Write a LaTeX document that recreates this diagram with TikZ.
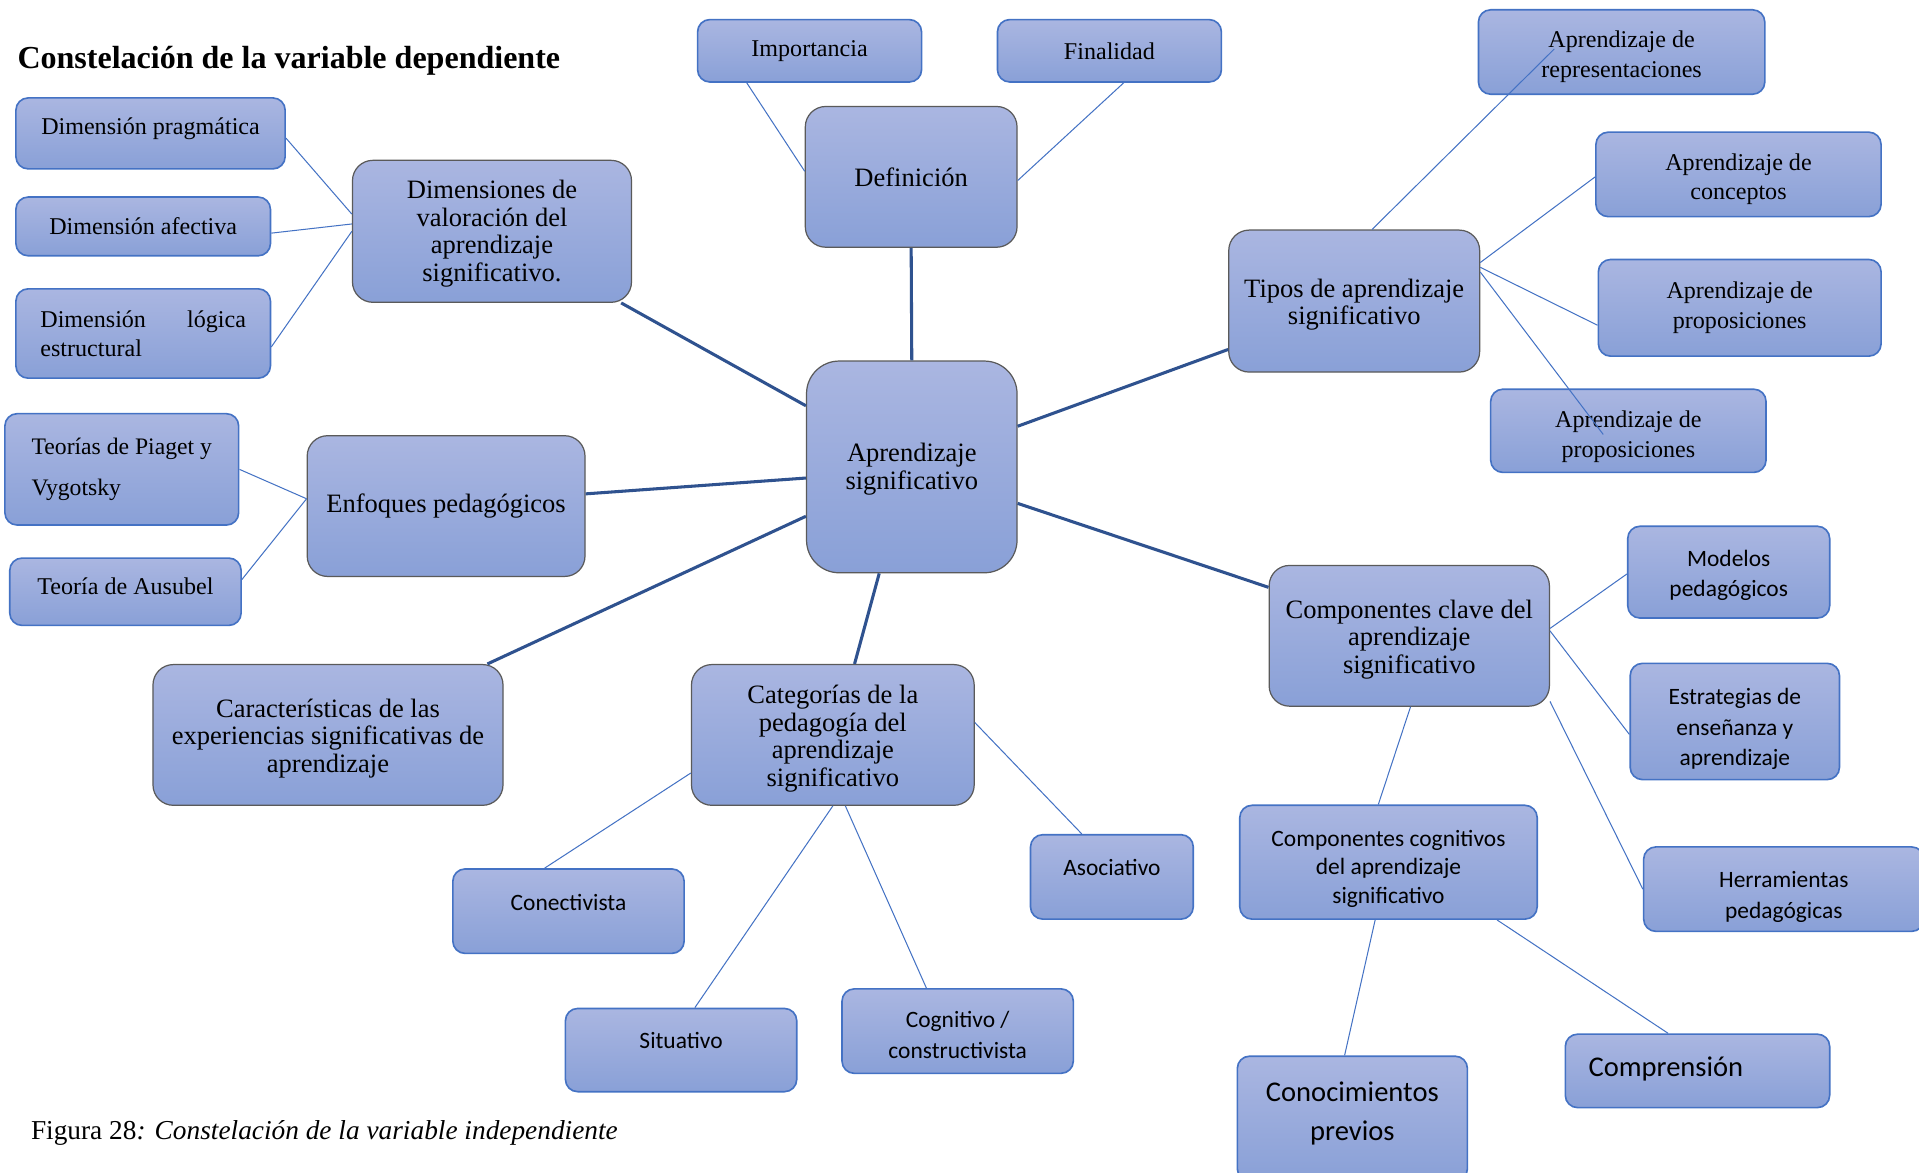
\documentclass[tikz,border=0pt]{standalone}
\usepackage{fontspec}
\setmainfont{Liberation Serif}
\newfontfamily\calibrifont{Carlito}
\definecolor{boxtop}{RGB}{170,182,225}
\definecolor{boxbot}{RGB}{137,160,215}
\definecolor{leafblue}{RGB}{68,114,196}
\definecolor{hubblue}{RGB}{47,82,143}
\definecolor{hubgray}{RGB}{90,90,90}
\begin{document}
\begin{tikzpicture}[x=0.6pt,y=-0.6pt,
    hub/.style={draw=hubgray,line width=0.6pt,rounded corners=10pt,top color=boxtop,bottom color=boxbot,
      align=center,inner sep=2pt,font=\fontsize{13}{13.5}\selectfont},
    leaf/.style={draw=leafblue,line width=0.8pt,rounded corners=6pt,top color=boxtop,bottom color=boxbot,
      align=center,inner sep=2pt,font=\fontsize{11.8}{14.4}\selectfont},
    sansleaf/.style={leaf,font=\calibrifont\fontsize{11.5}{15}\selectfont}]
  \path[use as bounding box,fill=white] (0,0) rectangle (1568,958);
  \draw
    (14,56) node[anchor=base west,inner sep=0pt,font=\bfseries\fontsize{15.7}{18}\selectfont] (title){Constelación de la variable dependiente}
    (661.5,41.5) node[leaf,minimum width=109.8pt,minimum height=30.6pt] (imp){Importancia}
    (906.5,41.5) node[leaf,minimum width=109.8pt,minimum height=30.6pt] (fin){Finalidad}
    (744.5,144.5) node[hub,minimum width=103.8pt,minimum height=69pt] (defi){Definición}
    (1325,42.5) node[leaf,minimum width=140.4pt,minimum height=41.4pt,text height=27.3pt] (rep){Aprendizaje de\\representaciones}
    (123,109) node[leaf,minimum width=132pt,minimum height=34.8pt,text depth=7.4pt] (prag){Dimensión pragmática}
    (402,189) node[hub,minimum width=136.8pt,minimum height=69.6pt,text height=51.8pt] (dimval){Dimensiones de\\valoración del\\aprendizaje\\significativo.}
    (117,185) node[leaf,minimum width=124.8pt,minimum height=28.8pt] (afec){Dimensión afectiva}
    (117,272.5) node[leaf,minimum width=124.8pt,minimum height=43.8pt,text width=100.8pt,align=justify] (logi){Dimensión lógica \mbox{estructural}}
    (1420.5,142.5) node[leaf,minimum width=139.8pt,minimum height=41.4pt,text height=27.3pt] (conc){Aprendizaje de\\conceptos}
    (1106.5,246) node[hub,minimum width=123pt,minimum height=69.6pt,text height=26pt] (tipos){Tipos de aprendizaje\\significativo}
    (1421.5,251.5) node[leaf,minimum width=138.6pt,minimum height=47.4pt] (propa){Aprendizaje de\\proposiciones}
    (1330.5,352) node[leaf,minimum width=135pt,minimum height=40.8pt,text height=28.5pt] (propb){Aprendizaje de\\proposiciones}
    (99.5,383.5) node[leaf,minimum width=114.6pt,minimum height=54.6pt,align=left,font=\fontsize{11.6}{19.8}\selectfont] (piaget){Teorías de Piaget y\\Vygotsky}
    (364.5,413.5) node[hub,minimum width=136.2pt,minimum height=69pt] (enf){Enfoques pedagógicos}
    (745,381.5) node[hub,rounded corners=16pt,minimum width=103.2pt,minimum height=103.8pt,text height=24.8pt] (apr){Aprendizaje\\significativo}
    (102.5,483.5) node[leaf,minimum width=113.4pt,minimum height=33pt,text depth=5.4pt] (aus){Teoría de Ausubel}
    (1412.5,467.5) node[sansleaf,minimum width=99pt,minimum height=45pt,text height=26.1pt] (mod){Modelos\\pedagógicos}
    (1151.5,519.5) node[hub,minimum width=137.4pt,minimum height=69pt,text height=39.5pt] (clave){Componentes clave del\\aprendizaje\\significativo}
    (268,600.5) node[hub,minimum width=171.6pt,minimum height=69pt,text height=39.5pt] (carac){Características de las\\experiencias significativas de\\aprendizaje}
    (680.5,600.5) node[hub,minimum width=138.6pt,minimum height=69pt,text height=53pt] (cat){Categorías de la\\pedagogía del\\aprendizaje\\significativo}
    (1417.5,589.5) node[sansleaf,minimum width=102.6pt,minimum height=57pt,text height=45.4pt] (estr){Estrategias de\\enseñanza y\\aprendizaje}
    (1134.5,704.5) node[sansleaf,minimum width=145.8pt,minimum height=55.8pt,font=\calibrifont\fontsize{11.5}{14}\selectfont,text height=42.1pt] (cogn){Componentes cognitivos\\del aprendizaje\\significativo}
    (908.5,716.5) node[sansleaf,minimum width=79.8pt,minimum height=41.4pt,text depth=9pt] (asoc){Asociativo}
    (464.5,744.5) node[sansleaf,minimum width=113.4pt,minimum height=41.4pt,text depth=9pt] (conec){Conectivista}
    (1457.5,726.5) node[sansleaf,minimum width=137.4pt,minimum height=41.4pt,text height=30.3pt] (herr){Herramientas\\pedagógicas}
    (556.5,858) node[sansleaf,minimum width=113.4pt,minimum height=40.8pt,text depth=9.6pt] (situ){Situativo}
    (782.5,842.5) node[sansleaf,minimum width=113.4pt,minimum height=41.4pt,text height=26.7pt] (cogc){Cognitivo /\\constructivista}
    (1105,914) node[sansleaf,minimum width=112.8pt,minimum height=61.2pt,font=\calibrifont\fontsize{14}{19.2}\selectfont,text depth=7.7pt] (conoc){Conocimientos\\previos}
    (1387,875) node[sansleaf,minimum width=129.6pt,minimum height=36pt,text width=106.8pt,align=left,font=\calibrifont\fontsize{14}{17}\selectfont,text depth=4.1pt] (comp){Comprensión}
    (25,931) node[anchor=base west,inner sep=0pt,font=\fontsize{13.4}{16}\selectfont] (cap){Figura 28\textit{: Constelación de la variable independiente}};
  \coordinate (repin) at (1270,40);
  \coordinate (propin) at (1310,355);
  \begin{scope}[hubblue,line width=1.5pt]
    \draw (apr.north) to (defi.south);
    \draw (apr.150) to (dimval.-29);
    \draw (apr.186) to (enf.5);
    \draw (apr.205) to (carac.24);
    \draw (apr.-107) to (cat.73);
    \draw (apr.-19) to (clave.161);
    \draw (apr.21) to (tipos.201);
  \end{scope}
  \begin{scope}[leafblue,line width=0.5pt]
    \draw (imp.-153) to (defi.177);
    \draw (fin.-66) to (defi.-2);
    \draw (tipos.76) to (repin);
    \draw (tipos.17) to (conc.181);
    \draw (tipos.15) to (propa.187);
    \draw (tipos.13) to (propin);
    \draw (dimval.173) to (prag.-2);
    \draw (dimval.177) to (afec.-3);
    \draw (dimval.west) to (logi.-6);
    \draw (enf.177) to (piaget.east);
    \draw (enf.177) to (aus.6);
    \draw (cat.195) to (conec.119);
    \draw (cat.-90) to (situ.72);
    \draw (cat.-80) to (cogc.126);
    \draw (cat.5) to (asoc.125);
    \draw (clave.3) to (mod.181);
    \draw (clave.2) to (estr.187);
    \draw (clave.-25) to (herr.west);
    \draw (clave.-89) to (cogn.100);
    \draw (cogn.-103) to (conoc.97);
    \draw (cogn.-28) to (comp.128);
  \end{scope}
\end{tikzpicture}
\end{document}
